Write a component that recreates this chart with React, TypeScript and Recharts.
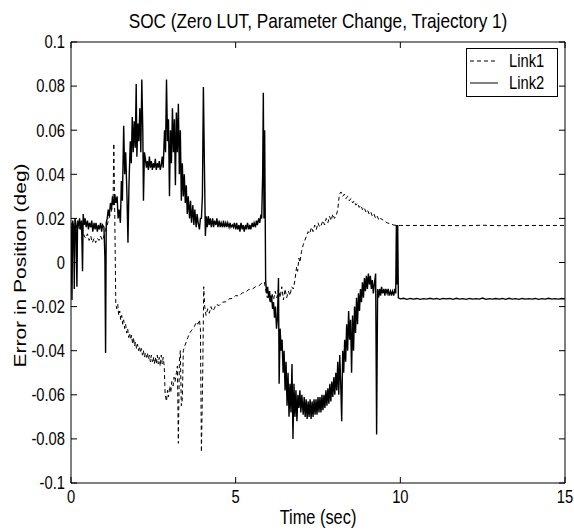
import React from "react";
import { Legend, Line, LineChart, XAxis, YAxis } from "recharts";

const FONT = '"Liberation Sans", Arial, sans-serif';
// the source figure is squeezed horizontally, so glyphs are narrower than tall
const SQUEEZE = 0.82;

const xTicks = [0, 5, 10, 15];
const xTickLabels = ["0", "5", "10", "15"];
const yTicks = [-0.1, -0.08, -0.06, -0.04, -0.02, 0, 0.02, 0.04, 0.06, 0.08, 0.1];
const yTickLabels = ["-0.1", "-0.08", "-0.06", "-0.04", "-0.02", "0", "0.02", "0.04", "0.06", "0.08", "0.1"];

// Link1 (dashed), [time, error]
const link1Start: [number, number][] = [
  [0, 0.012], [0.03, 0.016], [0.06, 0.018], [0.1, 0.014], [0.15, 0.017], [0.2, 0.015],
  [0.25, 0.016], [0.3, 0.014], [0.35, 0.015], [0.4, 0.012], [0.45, 0.011], [0.5, 0.013],
  [0.55, 0.01], [0.6, 0.012], [0.65, 0.009], [0.7, 0.011], [0.75, 0.009], [0.8, 0.011],
  [0.85, 0.01], [0.9, 0.012], [0.95, 0.01], [1.0, 0.012], [1.05, 0.015], [1.1, 0.017],
  [1.15, 0.02], [1.2, 0.022], [1.25, 0.025], [1.28, 0.03], [1.3, 0.054], [1.33, 0.02],
  [1.36, -0.019],
];
const link1Decay: [number, number][] = [
  [1.39, -0.021], [1.42, -0.019], [1.45, -0.024], [1.48, -0.022], [1.51, -0.026], [1.54, -0.024],
  [1.57, -0.028], [1.6, -0.026], [1.63, -0.03], [1.66, -0.028], [1.69, -0.032], [1.72, -0.03],
  [1.75, -0.034], [1.78, -0.032], [1.81, -0.035], [1.84, -0.033], [1.87, -0.037], [1.9, -0.034],
  [1.93, -0.038], [1.96, -0.036], [1.99, -0.039], [2.02, -0.037], [2.05, -0.04], [2.08, -0.038],
  [2.11, -0.041], [2.14, -0.039], [2.17, -0.042], [2.2, -0.04], [2.23, -0.043], [2.26, -0.041],
  [2.29, -0.043], [2.32, -0.041], [2.35, -0.044], [2.38, -0.042], [2.41, -0.045], [2.44, -0.042],
  [2.47, -0.045], [2.5, -0.043], [2.53, -0.046], [2.56, -0.043], [2.59, -0.046], [2.62, -0.042],
  [2.65, -0.046], [2.68, -0.043], [2.71, -0.047], [2.74, -0.042], [2.77, -0.046], [2.8, -0.043],
  [2.83, -0.047],
];
const link1Dip: [number, number][] = [
  [2.86, -0.06], [2.9, -0.063], [2.93, -0.058], [2.96, -0.061], [3.0, -0.056], [3.03, -0.059],
  [3.06, -0.054], [3.1, -0.056], [3.13, -0.052], [3.16, -0.054], [3.2, -0.05], [3.23, -0.047],
  [3.26, -0.082], [3.29, -0.045], [3.32, -0.04], [3.35, -0.065], [3.38, -0.062], [3.41, -0.04],
  [3.45, -0.038], [3.5, -0.036], [3.55, -0.034], [3.6, -0.032], [3.65, -0.031], [3.7, -0.03],
  [3.75, -0.029], [3.8, -0.027], [3.85, -0.028], [3.9, -0.026], [3.93, -0.03], [3.96, -0.086],
  [4.0, -0.05], [4.03, -0.011], [4.06, -0.02], [4.1, -0.024], [4.15, -0.021], [4.2, -0.023],
  [4.25, -0.02], [4.3, -0.022],
];
const link1Climb: [number, number][] = [
  [4.35, -0.021], [4.4, -0.019], [4.5, -0.0195], [4.6, -0.018], [4.7, -0.0178], [4.8, -0.0165],
  [4.9, -0.0163], [5.0, -0.015], [5.1, -0.0152], [5.2, -0.0138], [5.3, -0.0135], [5.4, -0.0122],
  [5.5, -0.0121], [5.6, -0.011], [5.7, -0.0106], [5.8, -0.0093], [5.87, -0.0088],
];
const link1Mid: [number, number][] = [
  [5.92, -0.013], [5.96, -0.016], [6.0, -0.015], [6.05, -0.018], [6.1, -0.014], [6.15, -0.017],
  [6.2, -0.013], [6.25, -0.016], [6.3, -0.012], [6.35, -0.016], [6.4, -0.011], [6.45, -0.017],
  [6.5, -0.012], [6.55, -0.016], [6.6, -0.013], [6.65, -0.015], [6.7, -0.011], [6.75, -0.012],
  [6.8, -0.008], [6.85, -0.002], [6.88, -0.004], [6.92, 0.002], [6.95, 0.0], [7.0, 0.005],
  [7.05, 0.008], [7.1, 0.01], [7.15, 0.012], [7.2, 0.014], [7.25, 0.013], [7.3, 0.016],
  [7.35, 0.014], [7.4, 0.017], [7.45, 0.015], [7.5, 0.018], [7.55, 0.016], [7.6, 0.017],
  [7.65, 0.019], [7.7, 0.017], [7.75, 0.02], [7.8, 0.018], [7.85, 0.021], [7.9, 0.019],
  [7.95, 0.022], [8.0, 0.02], [8.05, 0.021], [8.1, 0.024],
];
const link1Fall: [number, number][] = [
  [8.15, 0.031], [8.2, 0.032], [8.25, 0.03], [8.3, 0.031], [8.35, 0.029], [8.4, 0.03],
  [8.45, 0.028], [8.5, 0.029], [8.55, 0.027], [8.6, 0.028], [8.65, 0.026], [8.7, 0.027],
  [8.75, 0.025], [8.8, 0.026], [8.85, 0.024], [8.9, 0.025], [8.95, 0.023], [9.0, 0.024],
  [9.05, 0.022], [9.1, 0.023], [9.15, 0.021], [9.2, 0.022], [9.25, 0.02], [9.3, 0.021],
  [9.35, 0.019], [9.4, 0.02], [9.5, 0.019], [9.6, 0.018], [9.7, 0.0175], [9.8, 0.017],
  [9.9, 0.0168],
];
const link1Tail: [number, number][] = [
  [10, 0.0168], [11, 0.0168], [12, 0.0167], [12.5, 0.0169], [13, 0.0167], [14, 0.0168], [15, 0.0168],
];

// Link2 (solid), [time, error]
const link2Start: [number, number][] = [
  [0, 0.018], [0.03, -0.017], [0.05, 0.019], [0.08, 0.016], [0.1, -0.012], [0.12, 0.02],
  [0.15, 0.017], [0.18, -0.011], [0.2, 0.019], [0.23, 0.016], [0.26, 0.02], [0.29, 0.015],
  [0.32, 0.019], [0.35, -0.004], [0.37, 0.022], [0.4, 0.017], [0.43, 0.02], [0.46, 0.016],
  [0.5, 0.019], [0.53, 0.015], [0.56, 0.018], [0.6, 0.016], [0.63, 0.019], [0.66, 0.014],
  [0.7, 0.018], [0.73, 0.015], [0.76, 0.018], [0.8, 0.014], [0.83, 0.017], [0.86, 0.015],
  [0.9, 0.018], [0.93, 0.014], [0.96, 0.017], [1.0, 0.016], [1.03, 0.002], [1.05, -0.041],
  [1.07, 0.018], [1.1, 0.02],
];
const link2Rise: [number, number][] = [
  [1.13, 0.024], [1.16, 0.021], [1.2, 0.027], [1.23, 0.024], [1.26, 0.03], [1.3, 0.026],
  [1.33, 0.031], [1.36, 0.027], [1.4, 0.03], [1.43, 0.02], [1.46, 0.024], [1.5, 0.018],
  [1.53, 0.037], [1.56, 0.028], [1.6, 0.062], [1.63, 0.04], [1.66, 0.05], [1.7, 0.03],
  [1.73, 0.009], [1.76, 0.035], [1.8, 0.055], [1.83, 0.045], [1.86, 0.066], [1.89, 0.05],
  [1.92, 0.064], [1.95, 0.052], [1.98, 0.081], [2.0, 0.048], [2.03, 0.063], [2.06, 0.055],
  [2.09, 0.07], [2.12, 0.05], [2.15, 0.083], [2.18, 0.06], [2.2, 0.028], [2.23, 0.05],
];
const link2Plateau: [number, number][] = [
  [2.26, 0.047], [2.29, 0.043], [2.32, 0.046], [2.35, 0.042], [2.38, 0.048], [2.41, 0.043],
  [2.44, 0.046], [2.47, 0.042], [2.5, 0.045], [2.53, 0.043], [2.56, 0.047], [2.59, 0.042],
  [2.62, 0.045], [2.65, 0.043], [2.68, 0.046], [2.71, 0.042], [2.74, 0.044], [2.77, 0.048],
  [2.8, 0.043],
];
const link2Burst: [number, number][] = [
  [2.84, 0.06], [2.87, 0.05], [2.9, 0.083], [2.93, 0.055], [2.96, 0.065], [2.99, 0.03],
  [3.02, 0.06], [3.05, 0.045], [3.08, 0.07], [3.11, 0.05], [3.14, 0.065], [3.17, 0.035],
  [3.2, 0.068], [3.23, 0.05], [3.26, 0.072], [3.29, 0.04], [3.32, 0.06], [3.35, 0.028],
  [3.38, 0.045], [3.41, 0.03], [3.44, 0.04], [3.47, 0.027], [3.5, 0.035], [3.53, 0.022],
  [3.56, 0.03], [3.6, 0.02], [3.63, 0.028], [3.66, 0.018], [3.7, 0.026], [3.73, 0.017],
  [3.76, 0.024], [3.8, 0.016], [3.83, 0.022], [3.86, 0.018], [3.9, 0.015], [3.93, 0.02],
  [3.96, 0.02], [3.99, 0.03], [4.02, 0.0796], [4.05, 0.045], [4.08, 0.012], [4.11, 0.021],
  [4.14, 0.016],
];
const link2Flat: [number, number][] = [
  [4.17, 0.021], [4.2, 0.017], [4.23, 0.02], [4.26, 0.016], [4.3, 0.02], [4.33, 0.016],
  [4.36, 0.019], [4.4, 0.017], [4.43, 0.02], [4.46, 0.016], [4.5, 0.019], [4.53, 0.016],
  [4.56, 0.018], [4.6, 0.016], [4.63, 0.019], [4.66, 0.016], [4.7, 0.018], [4.73, 0.016],
  [4.76, 0.018], [4.8, 0.016], [4.83, 0.018], [4.86, 0.016], [4.9, 0.017], [4.93, 0.016],
  [4.96, 0.018], [5.0, 0.015], [5.03, 0.018], [5.06, 0.015], [5.1, 0.017], [5.13, 0.014],
  [5.16, 0.018], [5.2, 0.015], [5.23, 0.017], [5.26, 0.014], [5.3, 0.017], [5.33, 0.015],
  [5.36, 0.018], [5.4, 0.015], [5.43, 0.017], [5.46, 0.015], [5.5, 0.018], [5.53, 0.016],
  [5.56, 0.018], [5.6, 0.016], [5.63, 0.019], [5.66, 0.017], [5.7, 0.02], [5.73, 0.018],
  [5.76, 0.021], [5.79, 0.02],
];
const link2Drop: [number, number][] = [
  [5.82, 0.04], [5.84, 0.077], [5.86, 0.02], [5.88, 0.06], [5.91, -0.008], [5.94, -0.014],
  [5.97, -0.011], [6.0, -0.016], [6.03, -0.013], [6.06, -0.018], [6.09, -0.015], [6.12, -0.021],
  [6.15, -0.018], [6.18, -0.025], [6.21, -0.02], [6.24, -0.03], [6.27, -0.025], [6.3, -0.007],
  [6.32, -0.055], [6.35, -0.03], [6.38, -0.04], [6.41, -0.035], [6.44, -0.05], [6.47, -0.04],
  [6.5, -0.058], [6.53, -0.045], [6.56, -0.065], [6.59, -0.05], [6.62, -0.07], [6.65, -0.055],
  [6.68, -0.068], [6.71, -0.046], [6.74, -0.08], [6.77, -0.055], [6.8, -0.07], [6.83, -0.058],
  [6.86, -0.072], [6.89, -0.06], [6.92, -0.066], [6.95, -0.058], [6.98, -0.068], [7.01, -0.06],
];
const link2Bowl: [number, number][] = [
  [7.05, -0.069], [7.08, -0.061], [7.11, -0.07], [7.14, -0.062], [7.17, -0.071], [7.2, -0.063],
  [7.23, -0.07], [7.26, -0.062], [7.29, -0.071], [7.32, -0.063], [7.35, -0.07], [7.38, -0.062],
  [7.41, -0.069], [7.44, -0.062], [7.47, -0.069], [7.5, -0.061], [7.53, -0.068], [7.56, -0.061],
  [7.59, -0.068], [7.62, -0.06], [7.65, -0.067], [7.68, -0.06], [7.71, -0.066], [7.74, -0.058],
  [7.77, -0.065], [7.8, -0.057], [7.83, -0.064], [7.86, -0.055], [7.89, -0.063], [7.92, -0.054],
  [7.95, -0.061], [7.98, -0.052], [8.01, -0.06], [8.04, -0.05], [8.07, -0.058],
];
const link2Recover: [number, number][] = [
  [8.1, -0.045], [8.13, -0.06], [8.16, -0.042], [8.19, -0.055], [8.22, -0.072], [8.25, -0.04],
  [8.28, -0.05], [8.31, -0.035], [8.34, -0.045], [8.37, -0.028], [8.4, -0.04], [8.43, -0.022],
  [8.46, -0.035], [8.49, -0.026], [8.52, -0.05], [8.55, -0.024], [8.58, -0.04], [8.61, -0.02],
  [8.64, -0.032], [8.67, -0.016], [8.7, -0.028], [8.73, -0.014], [8.76, -0.022], [8.79, -0.012],
  [8.82, -0.018], [8.85, -0.009], [8.88, -0.016], [8.91, -0.007], [8.94, -0.013], [8.97, -0.006],
  [9.0, -0.012], [9.03, -0.005], [9.06, -0.01], [9.09, -0.006], [9.12, -0.012], [9.15, -0.008],
  [9.18, -0.014], [9.21, -0.01], [9.25, -0.005], [9.28, -0.078], [9.31, -0.012], [9.34, -0.016],
  [9.37, -0.012], [9.4, -0.015], [9.43, -0.011], [9.46, -0.014], [9.5, -0.012], [9.53, -0.015],
  [9.56, -0.012], [9.6, -0.014], [9.63, -0.012], [9.66, -0.015], [9.7, -0.013], [9.73, -0.015],
  [9.76, -0.013], [9.8, -0.015], [9.83, -0.012], [9.86, -0.014], [9.88, 0.017], [9.9, -0.01],
  [9.92, 0.017], [9.94, -0.016],
];
const link2Tail: [number, number][] = [
  [10.0, -0.0165], [10.1, -0.0162], [10.2, -0.0167], [10.3, -0.0163], [10.4, -0.0166], [10.5, -0.0163],
  [10.6, -0.0167], [10.7, -0.0164], [10.8, -0.0166], [10.9, -0.0162], [11.0, -0.0166], [11.1, -0.0163],
  [11.2, -0.0167], [11.3, -0.0163], [11.4, -0.0165], [11.5, -0.0163], [11.6, -0.0167], [11.7, -0.0162],
  [11.8, -0.0166], [11.9, -0.0164], [12.0, -0.0167], [12.1, -0.0163], [12.2, -0.0166], [12.3, -0.0164],
  [12.4, -0.0166], [12.5, -0.0161], [12.6, -0.0167], [12.7, -0.0164], [12.8, -0.0166], [12.9, -0.0163],
  [13.0, -0.0166], [13.1, -0.0163], [13.2, -0.0167], [13.3, -0.0162], [13.4, -0.0166], [13.5, -0.0164],
  [13.6, -0.0167], [13.7, -0.0163], [13.8, -0.0166], [13.9, -0.0164], [14.0, -0.0166], [14.1, -0.0163],
  [14.2, -0.0167], [14.3, -0.0164], [14.4, -0.0166], [14.5, -0.0162], [14.6, -0.0166], [14.7, -0.0164],
  [14.8, -0.0166], [14.9, -0.0163], [15.0, -0.0165],
];

const toRows = (parts: [number, number][][]) =>
  parts.flat().map(([t, v]) => ({ t, v }));

const link1 = toRows([link1Start, link1Decay, link1Dip, link1Climb, link1Mid, link1Fall, link1Tail]);
const link2 = toRows([
  link2Start, link2Rise, link2Plateau, link2Burst, link2Flat, link2Drop, link2Bowl, link2Recover, link2Tail,
]);

const TICK_LEN = 6;

// horizontal text, squeezed like the source
function SqText({ x, y, size, anchor = "middle", children }: any) {
  return (
    <text
      transform={`translate(${x},${y}) scale(${SQUEEZE},1)`}
      dy="0.35em"
      textAnchor={anchor}
      fontFamily={FONT}
      fontSize={size}
      fill="#000"
    >
      {children}
    </text>
  );
}

function BottomTick({ x, y, payload }: any) {
  const i = xTicks.indexOf(payload.value);
  return (
    <g>
      <line x1={x} x2={x} y1={y} y2={y - TICK_LEN} stroke="#000" />
      <SqText x={x} y={y + 14} size={18}>{xTickLabels[i]}</SqText>
    </g>
  );
}

function TopTick({ x, y }: any) {
  return <line x1={x} x2={x} y1={y} y2={y + TICK_LEN} stroke="#000" />;
}

function LeftTick({ x, y, payload }: any) {
  const i = yTicks.indexOf(payload.value);
  return (
    <g>
      <line x1={x} x2={x + TICK_LEN} y1={y} y2={y} stroke="#000" />
      <SqText x={x - 6} y={y} size={18} anchor="end">{yTickLabels[i]}</SqText>
    </g>
  );
}

function RightTick({ x, y }: any) {
  return <line x1={x} x2={x - TICK_LEN} y1={y} y2={y} stroke="#000" />;
}

function LegendBox() {
  return (
    <svg width={92} height={49} style={{ display: "block" }}>
      <rect x={0.5} y={0.5} width={91} height={48} fill="#fff" stroke="#000" />
      <line x1={4} x2={32} y1={13} y2={13} stroke="#000" strokeDasharray="4 3" />
      <SqText x={43} y={13} size={18} anchor="start">Link1</SqText>
      <line x1={4} x2={32} y1={35} y2={35} stroke="#000" />
      <SqText x={43} y={35} size={18} anchor="start">Link2</SqText>
    </svg>
  );
}

export default function App() {
  return (
    <div style={{ position: "absolute", left: 0, top: 0, background: "#fff" }}>
      <LineChart width={574} height={531} margin={{ top: 0, right: 0, bottom: 0, left: 0 }}>
        <XAxis
          xAxisId="bottom"
          type="number"
          dataKey="t"
          domain={[0, 15]}
          ticks={xTicks}
          interval={0}
          height={48}
          tickSize={0}
          tickMargin={0}
          tickLine={false}
          axisLine={{ stroke: "#000" }}
          tick={<BottomTick />}
          allowDataOverflow
          label={{
            content: ({ viewBox }: any) => (
              <SqText x={viewBox.x + viewBox.width / 2} y={517} size={20}>Time (sec)</SqText>
            ),
          }}
        />
        <XAxis
          xAxisId="top"
          orientation="top"
          type="number"
          dataKey="t"
          domain={[0, 15]}
          ticks={xTicks}
          interval={0}
          height={42}
          tickSize={0}
          tickMargin={0}
          tickLine={false}
          axisLine={{ stroke: "#000" }}
          tick={<TopTick />}
          allowDataOverflow
          label={{
            content: ({ viewBox }: any) => (
              <SqText x={viewBox.x + viewBox.width / 2} y={21} size={21}>
                SOC (Zero LUT, Parameter Change, Trajectory 1)
              </SqText>
            ),
          }}
        />
        <YAxis
          yAxisId="left"
          type="number"
          domain={[-0.1, 0.1]}
          ticks={yTicks}
          interval={0}
          width={71}
          tickSize={0}
          tickMargin={0}
          tickLine={false}
          axisLine={{ stroke: "#000" }}
          tick={<LeftTick />}
          allowDataOverflow
          label={{
            content: ({ viewBox }: any) => {
              const cy = viewBox.y + viewBox.height / 2 + 3;
              return (
                <text
                  transform={`translate(20,${cy}) rotate(-90) scale(1,${SQUEEZE})`}
                  dy="0.35em"
                  textAnchor="middle"
                  fontFamily={FONT}
                  fontSize={21}
                  fill="#000"
                >
                  Error in Position (deg)
                </text>
              );
            },
          }}
        />
        <YAxis
          yAxisId="right"
          orientation="right"
          type="number"
          domain={[-0.1, 0.1]}
          ticks={yTicks}
          interval={0}
          width={9}
          tickSize={0}
          tickMargin={0}
          tickLine={false}
          axisLine={{ stroke: "#000" }}
          tick={<RightTick />}
          allowDataOverflow
        />
        <Legend
          layout="vertical"
          align="center"
          verticalAlign="middle"
          content={() => <LegendBox />}
          wrapperStyle={{ position: "absolute", left: 466, top: 48, width: 92, height: 49 }}
        />
        <Line
          name="Link1"
          xAxisId="bottom"
          yAxisId="left"
          data={link1}
          dataKey="v"
          type="linear"
          stroke="#000"
          strokeWidth={1}
          strokeDasharray="4 3"
          dot={false}
          activeDot={false}
          isAnimationActive={false}
        />
        <Line
          name="Link2"
          xAxisId="bottom"
          yAxisId="left"
          data={link2}
          dataKey="v"
          type="linear"
          stroke="#000"
          strokeWidth={1.4}
          dot={false}
          activeDot={false}
          isAnimationActive={false}
        />
      </LineChart>
    </div>
  );
}
